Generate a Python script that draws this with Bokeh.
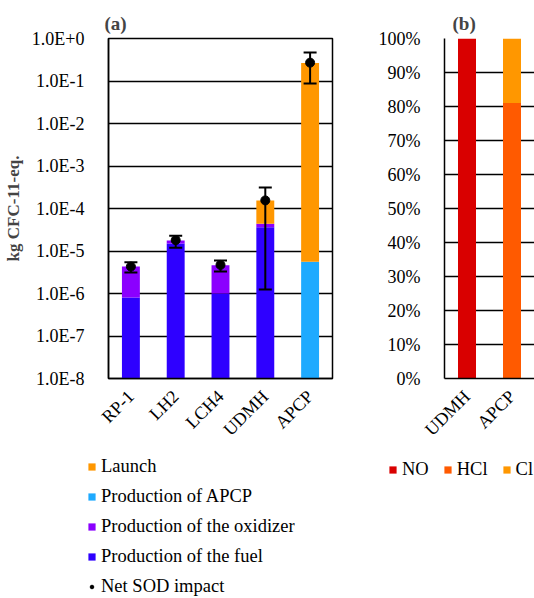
from bokeh.plotting import figure
from bokeh.layouts import row, column
from bokeh.models import (ColumnDataSource, FactorRange, Range1d, FixedTicker,
                          CustomJSTickFormatter, NumeralTickFormatter, Whisker,
                          TeeHead, Legend, LegendItem, Title)
from bokeh.embed import file_html
from bokeh.resources import INLINE

FONT = "Liberation Serif"

# ---- panel (a): ozone depletion per propellant, kg CFC-11-eq. ----
fuels = ["RP-1", "LH2", "LCH4", "UDMH", "APCP"]
fuel_production = [8.1e-7, 1.5e-5, 1.0e-6, 3.6e-5, 0.0]
oxidizer_production = [3.5e-6, 2.7e-6, 3.6e-6, 8.0e-6, 0.0]
apcp_production = [0.0, 0.0, 0.0, 0.0, 5.6e-6]
launch = [0.0, 0.0, 0.0, 1.1e-4, 0.265]
net_sod = [4.3e-6, 1.8e-5, 4.7e-6, 1.55e-4, 0.27]
net_sod_low = [3.1e-6, 1.2e-5, 3.3e-6, 1.25e-6, 0.087]
net_sod_high = [5.4e-6, 2.3e-5, 6.0e-6, 3.1e-4, 0.47]
decade_ticks = [1e-8, 1e-7, 1e-6, 1e-5, 1e-4, 1e-3, 1e-2, 1e-1, 1.0]

# ---- panel (b): share of launch emissions by species ----
species_fuels = ["UDMH", "APCP"]
share_no = [1.0, 0.0]
share_hcl = [0.0, 0.81]
share_cl = [0.0, 0.19]
percent_ticks = [0.0, 0.1, 0.2, 0.3, 0.4, 0.5, 0.6, 0.7, 0.8, 0.9, 1.0]

C_FUEL = "#2E00FF"
C_OXID = "#8B00FF"
C_APCP = "#1EAAFF"
C_LAUNCH = "#FF9700"
C_NO = "#D90000"
C_HCL = "#FF5A00"
C_CL = "#FF9700"

TOP_H = 450      # height of the chart row
LEG_H = 598 - TOP_H
TICK_SIZE = "18px"
LEGEND_SIZE = "18.5px"


def style_axes(p):
    for ax in (p.xaxis[0], p.yaxis[0]):
        ax.major_label_text_font = FONT
        ax.major_label_text_font_size = TICK_SIZE
        ax.major_label_text_color = "black"
        ax.major_tick_line_color = None
        ax.minor_tick_line_color = None
        ax.axis_line_color = "black"
        ax.axis_line_width = 1.5
    p.xaxis.major_label_orientation = 0.785398
    p.xaxis.major_label_standoff = 9
    p.yaxis.major_label_standoff = 18
    p.xgrid.grid_line_color = None
    p.ygrid.grid_line_color = "black"
    p.ygrid.grid_line_width = 1.3
    p.background_fill_color = "white"
    p.border_fill_color = "white"


pA = figure(x_range=FactorRange(factors=fuels), y_axis_type="log",
            y_range=Range1d(1e-8, 1.0), width=370, height=TOP_H,
            min_border_left=106, min_border_right=38, min_border_top=38,
            min_border_bottom=TOP_H - 378, output_backend="svg",
            toolbar_location=None)
pA.title = Title(text="(a)", align="left", offset=-4, text_font=FONT,
                 text_font_size="19px", text_font_style="bold")
pA.outline_line_color = "black"
pA.outline_line_width = 1.5

# stacked layers on the log axis: fuel, oxidizer, APCP production, launch
floor = decade_ticks[0]
layers = [("Production of the fuel", fuel_production, C_FUEL),
          ("Production of the oxidizer", oxidizer_production, C_OXID),
          ("Production of APCP", apcp_production, C_APCP),
          ("Launch", launch, C_LAUNCH)]
cum = [0.0] * len(fuels)
for name, vals, color in layers:
    nxt = [c + v for c, v in zip(cum, vals)]
    src = ColumnDataSource(dict(fuel=fuels,
                                bottom=[max(c, floor) for c in cum],
                                top=[max(n, floor) for n in nxt]))
    pA.vbar(x="fuel", bottom="bottom", top="top", width=0.4, source=src,
            fill_color=color, line_color=None)
    cum = nxt

net_src = ColumnDataSource(dict(fuel=fuels, net=net_sod,
                                low=net_sod_low, high=net_sod_high))
pA.add_layout(Whisker(source=net_src, base="fuel", lower="low", upper="high",
                      level="overlay", line_color="black", line_width=2,
                      upper_head=TeeHead(size=13, line_width=2, line_color="black"),
                      lower_head=TeeHead(size=13, line_width=2, line_color="black")))
pA.scatter(x="fuel", y="net", source=net_src, size=9,
           fill_color="black", line_color="black", level="overlay")

style_axes(pA)
pA.yaxis.ticker = FixedTicker(ticks=decade_ticks)
pA.yaxis.formatter = CustomJSTickFormatter(code="""
    const e = Math.round(Math.log10(tick));
    return "1.0E" + (e >= 0 ? "+" : "") + e;
""")
pA.yaxis.axis_label = "kg CFC-11-eq."
pA.yaxis.axis_label_text_font = FONT
pA.yaxis.axis_label_text_font_size = "17px"
pA.yaxis.axis_label_text_font_style = "bold"
pA.yaxis.axis_label_standoff = 6

# ---- panel (b) ----
pB = figure(x_range=FactorRange(factors=species_fuels), y_range=Range1d(0, 1.0),
            width=164, height=TOP_H, min_border_left=74, min_border_right=0,
            min_border_top=38, min_border_bottom=TOP_H - 378,
            output_backend="svg", toolbar_location=None)
pB.title = Title(text="(b)", align="left", offset=8, text_font=FONT,
                 text_font_size="19px", text_font_style="bold")
pB.outline_line_color = None
src_b = ColumnDataSource(dict(fuel=species_fuels, no=share_no,
                              hcl=share_hcl, cl=share_cl))
pB.vbar_stack(["no", "hcl", "cl"], x="fuel", width=0.4, source=src_b,
              fill_color=[C_NO, C_HCL, C_CL], line_color=None)
style_axes(pB)
pB.yaxis.ticker = FixedTicker(ticks=percent_ticks)
pB.yaxis.formatter = NumeralTickFormatter(format="0%")

# ---- legend strip under both panels ----
pL = figure(x_range=Range1d(0, 1), y_range=Range1d(0, 1), width=534,
            height=LEG_H, min_border=0, output_backend="svg",
            toolbar_location=None)
pL.axis.visible = False
pL.grid.grid_line_color = None
pL.outline_line_color = None
pL.border_fill_color = "white"
# legend keys need a renderer with one row; it sits outside the visible range
offstage = ColumnDataSource(dict(x=[-5.0], y=[-5.0]))


def key(color, marker=False):
    if marker:
        return pL.scatter(x="x", y="y", source=offstage, size=7,
                          fill_color=color, line_color=color)
    return pL.rect(x="x", y="y", width=0.1, height=0.1, source=offstage,
                   fill_color=color, line_color=None)


common = dict(glyph_width=9, glyph_height=9, label_height=23,
              label_standoff=5, padding=0, margin=0, border_line_color=None,
              background_fill_alpha=0, label_text_font=FONT,
              label_text_font_size=LEGEND_SIZE, label_text_color="black")

legA = Legend(items=[
    LegendItem(label="Launch", renderers=[key(C_LAUNCH)]),
    LegendItem(label="Production of APCP", renderers=[key(C_APCP)]),
    LegendItem(label="Production of the oxidizer", renderers=[key(C_OXID)]),
    LegendItem(label="Production of the fuel", renderers=[key(C_FUEL)]),
    LegendItem(label="Net SOD impact", renderers=[key("black", marker=True)]),
], location=(87, 0), orientation="vertical", spacing=7, **common)
pL.add_layout(legA)

legB = Legend(items=[LegendItem(label="NO", renderers=[key(C_NO)]),
                     LegendItem(label="HCl", renderers=[key(C_HCL)]),
                     LegendItem(label="Cl", renderers=[key(C_CL)])],
              location=(388, LEG_H - 8 - 23), orientation="horizontal",
              spacing=14, **common)
pL.add_layout(legB)

layout = column(row(pA, pB), pL)
open("out.html", "w").write(file_html(layout, INLINE))
